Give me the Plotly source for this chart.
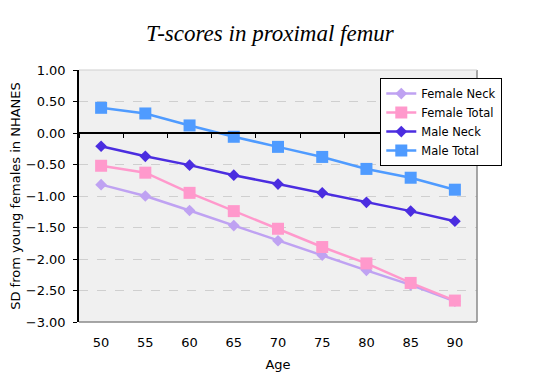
import plotly.graph_objects as go

ages = ["50", "55", "60", "65", "70", "75", "80", "85", "90"]
female_neck = [-0.82, -1.00, -1.23, -1.47, -1.71, -1.94, -2.18, -2.41, -2.67]
female_total = [-0.52, -0.63, -0.95, -1.24, -1.52, -1.81, -2.07, -2.38, -2.66]
male_neck = [-0.21, -0.37, -0.51, -0.67, -0.81, -0.95, -1.10, -1.24, -1.40]
male_total = [0.40, 0.31, 0.12, -0.06, -0.22, -0.38, -0.57, -0.71, -0.90]
y_ticks = [1.0, 0.5, 0.0, -0.5, -1.0, -1.5, -2.0, -2.5, -3.0]

series = [
    ("Female Neck", female_neck, "#BFA2F2", "diamond", 9),
    ("Female Total", female_total, "#FF99CC", "square", 12),
    ("Male Neck", male_neck, "#4B2DE0", "diamond", 9),
    ("Male Total", male_total, "#4F9BFF", "square", 12),
]

fig = go.Figure()
for name, vals, col, sym, sz in series:
    fig.add_trace(go.Scatter(
        x=ages, y=vals, name=name, mode="lines+markers",
        line=dict(color=col, width=2.5),
        marker=dict(symbol=sym, size=sz, color=col),
        xaxis="x", yaxis="y",
    ))

font_family = "DejaVu Sans"
fig.update_layout(
    width=527, height=372,
    margin=dict(l=71, r=58, t=62, b=58),
    paper_bgcolor="white",
    plot_bgcolor="#F0F0F0",
    font=dict(family=font_family, size=12, color="black"),
    title=dict(
        text="<i>T-scores in proximal femur</i>",
        x=0.497, xanchor="center", y=0.933, yanchor="middle",
        font=dict(family="Liberation Serif", size=23, color="black"),
    ),
    showlegend=True,
    legend=dict(
        x=0.757, xanchor="left", y=0.968, yanchor="top",
        bgcolor="white", bordercolor="black", borderwidth=1,
        font=dict(size=11.5, family=font_family),
        tracegroupgap=0, itemwidth=30,
    ),
    xaxis=dict(
        type="category", categoryorder="array", categoryarray=ages,
        range=[-0.5, len(ages) - 0.5],
        anchor="free", position=0.75,
        showline=True, linecolor="black", linewidth=1.5,
        ticks="outside", tickson="boundaries", ticklen=4, tickcolor="black",
        showticklabels=False, showgrid=False, zeroline=False,
    ),
    xaxis2=dict(
        overlaying="x", anchor="y", side="bottom", automargin=False,
        range=[-0.5, len(ages) - 0.5],
        tickmode="array", tickvals=list(range(len(ages))), ticktext=ages,
        showline=False, showgrid=False, zeroline=False, ticks="",
        tickfont=dict(size=13), ticklabelstandoff=11,
        title=dict(text="Age", font=dict(size=13), standoff=10),
    ),
    yaxis=dict(
        range=[-3.0, 1.0], tickmode="array", tickvals=y_ticks, automargin=False,
        tickformat=".2f", tickfont=dict(size=13),
        showline=True, linecolor="black", linewidth=1.5,
        ticks="outside", ticklen=4, tickcolor="black", ticklabelstandoff=5,
        showgrid=True, gridcolor="#CFCFCF", griddash="dash", gridwidth=1,
        zeroline=False,
        title=dict(text="SD from young females in NHANES", font=dict(size=13), standoff=3),
    ),
)

# invisible trace so xaxis2 renders its labels
fig.add_trace(go.Scatter(x=[0], y=[None], xaxis="x2", yaxis="y",
                         showlegend=False, hoverinfo="skip", mode="markers"))

# gray border on right and bottom of plot area
fig.add_shape(type="line", xref="paper", yref="paper", x0=1, x1=1, y0=0, y1=1,
              line=dict(color="#8A8A8A", width=1.5))
fig.add_shape(type="line", xref="paper", yref="paper", x0=0, x1=1, y0=0, y1=0,
              line=dict(color="#8A8A8A", width=1.5))
fig.add_shape(type="line", xref="paper", yref="paper", x0=0, x1=1, y0=1, y1=1,
              line=dict(color="#CFCFCF", width=1))

fig.write_html("out.html")
